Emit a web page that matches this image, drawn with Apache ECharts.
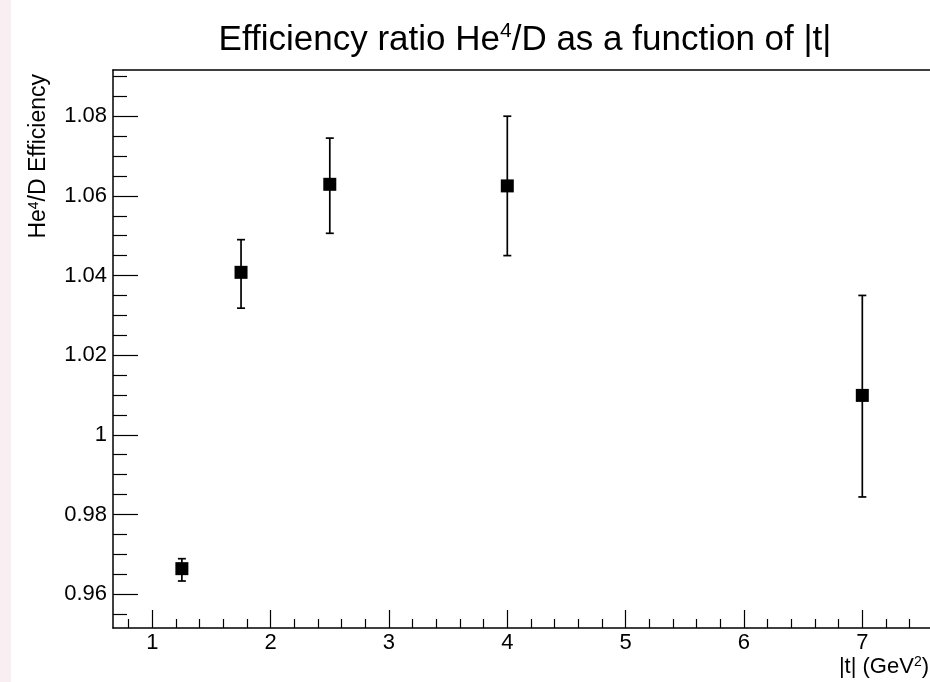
<!DOCTYPE html>
<html>
<head>
<meta charset="utf-8">
<script src="https://cdn.jsdelivr.net/npm/echarts@6/dist/echarts.min.js"></script>
<style>
html,body{margin:0;padding:0;background:#fff}
#main{width:930px;height:682px}
</style>
</head>
<body>
<div id="main"></div>
<script>
// |t| bins, efficiency ratio and error bar ends
const tVals = [1.25, 1.75, 2.5, 4, 7];
const effVals = [0.9664, 1.0408, 1.0629, 1.0625, 1.0099];
const errHigh = [0.9689, 1.0490, 1.0745, 1.0800, 1.0350];
const errLow = [0.9633, 1.0318, 1.0506, 1.0450, 0.9844];

// axis ticks
const xMajor = [1, 2, 3, 4, 5, 6, 7];
const yMajor = [0.96, 0.98, 1, 1.02, 1.04, 1.06, 1.08];
const xMinor = [];
for (let i = 4; i <= 37; i++) { if (i % 5) xMinor.push(+(i * 0.2).toFixed(1)); }
const yMinor = [];
for (let i = 191; i <= 218; i++) { if (i % 4) yMinor.push(+(i * 0.005).toFixed(3)); }

const xMin = 0.668, xMax = 7.572;
const yMin = 0.9515, yMax = 1.0916;
const FONT = 'Liberation Sans, Arial, Helvetica, sans-serif';

let chart = echarts.init(document.getElementById('main'));

let option = {
    animation: false,
    backgroundColor: '#fff',
    grid: { left: 113, right: 0, top: 70, bottom: 54 },
    graphic: [
        { type: 'rect', left: 0, top: 0, shape: { width: 11, height: 682 }, style: { fill: '#f9eef2' } },
        {
            type: 'text', x: 525, y: 40,
            style: {
                text: 'Efficiency ratio He{sup|4}/D as a function of |t|',
                font: '35px ' + FONT, fill: '#000', align: 'center', verticalAlign: 'middle',
                rich: { sup: { fontSize: 21, fontFamily: FONT, padding: [0, 0, 18, 0] } }
            }
        },
        {
            type: 'text', x: 39, y: 74, rotation: Math.PI / 2,
            style: {
                text: 'He{sup|4}/D Efficiency',
                font: '23px ' + FONT, fill: '#000', align: 'right', verticalAlign: 'middle',
                rich: { sup: { fontSize: 14, fontFamily: FONT, padding: [0, 0, 10, 0] } }
            }
        },
        {
            type: 'text', x: 929, y: 667,
            style: {
                text: '|t| (GeV{sup|2})',
                font: '22px ' + FONT, fill: '#000', align: 'right', verticalAlign: 'middle',
                rich: { sup: { fontSize: 14, fontFamily: FONT, padding: [0, 0, 10, 0] } }
            }
        }
    ],
    xAxis: [
        {
            type: 'value', position: 'bottom', min: xMin, max: xMax,
            axisLine: { lineStyle: { color: '#000', width: 1.5 } },
            axisTick: { inside: true, length: 18, customValues: xMajor, lineStyle: { color: '#000', width: 1.2 } },
            axisLabel: { customValues: xMajor, color: '#000', fontSize: 22, fontFamily: FONT, margin: 4 },
            splitLine: { show: false }
        },
        {
            type: 'value', position: 'bottom', min: xMin, max: xMax,
            axisLine: { show: false },
            axisTick: { inside: true, length: 9, customValues: xMinor, lineStyle: { color: '#000', width: 1.2 } },
            axisLabel: { show: false },
            splitLine: { show: false }
        },
        {
            type: 'value', position: 'top', min: xMin, max: xMax,
            axisLine: { lineStyle: { color: '#000', width: 1.5 } },
            axisTick: { show: false }, axisLabel: { show: false }, splitLine: { show: false }
        }
    ],
    yAxis: [
        {
            type: 'value', position: 'left', min: yMin, max: yMax,
            axisLine: { show: true, lineStyle: { color: '#000', width: 1.5 } },
            axisTick: { show: true, inside: true, length: 25, customValues: yMajor, lineStyle: { color: '#000', width: 1.2 } },
            axisLabel: { customValues: yMajor, color: '#000', fontSize: 22, fontFamily: FONT, margin: 6 },
            splitLine: { show: false }
        },
        {
            type: 'value', position: 'left', min: yMin, max: yMax,
            axisLine: { show: false },
            axisTick: { show: true, inside: true, length: 14, customValues: yMinor, lineStyle: { color: '#000', width: 1.2 } },
            axisLabel: { show: false },
            splitLine: { show: false }
        }
    ],
    series: [
        {
            type: 'custom',
            xAxisIndex: 0, yAxisIndex: 0,
            data: tVals.map((t, i) => [t, errHigh[i], errLow[i]]),
            renderItem(params, api) {
                let top = api.coord([api.value(0), api.value(1)]);
                let bot = api.coord([api.value(0), api.value(2)]);
                let st = { stroke: '#000', lineWidth: 1.7 };
                let h = 4;
                return {
                    type: 'group',
                    children: [
                        { type: 'line', shape: { x1: top[0], y1: top[1], x2: bot[0], y2: bot[1] }, style: st },
                        { type: 'line', shape: { x1: top[0] - h, y1: top[1], x2: top[0] + h, y2: top[1] }, style: st },
                        { type: 'line', shape: { x1: bot[0] - h, y1: bot[1], x2: bot[0] + h, y2: bot[1] }, style: st }
                    ]
                };
            }
        },
        {
            type: 'scatter',
            xAxisIndex: 0, yAxisIndex: 0,
            symbol: 'rect', symbolSize: 13,
            itemStyle: { color: '#000', opacity: 1 },
            z: 3,
            data: tVals.map((t, i) => [t, effVals[i]])
        }
    ]
};

chart.setOption(option);
</script>
</body>
</html>
